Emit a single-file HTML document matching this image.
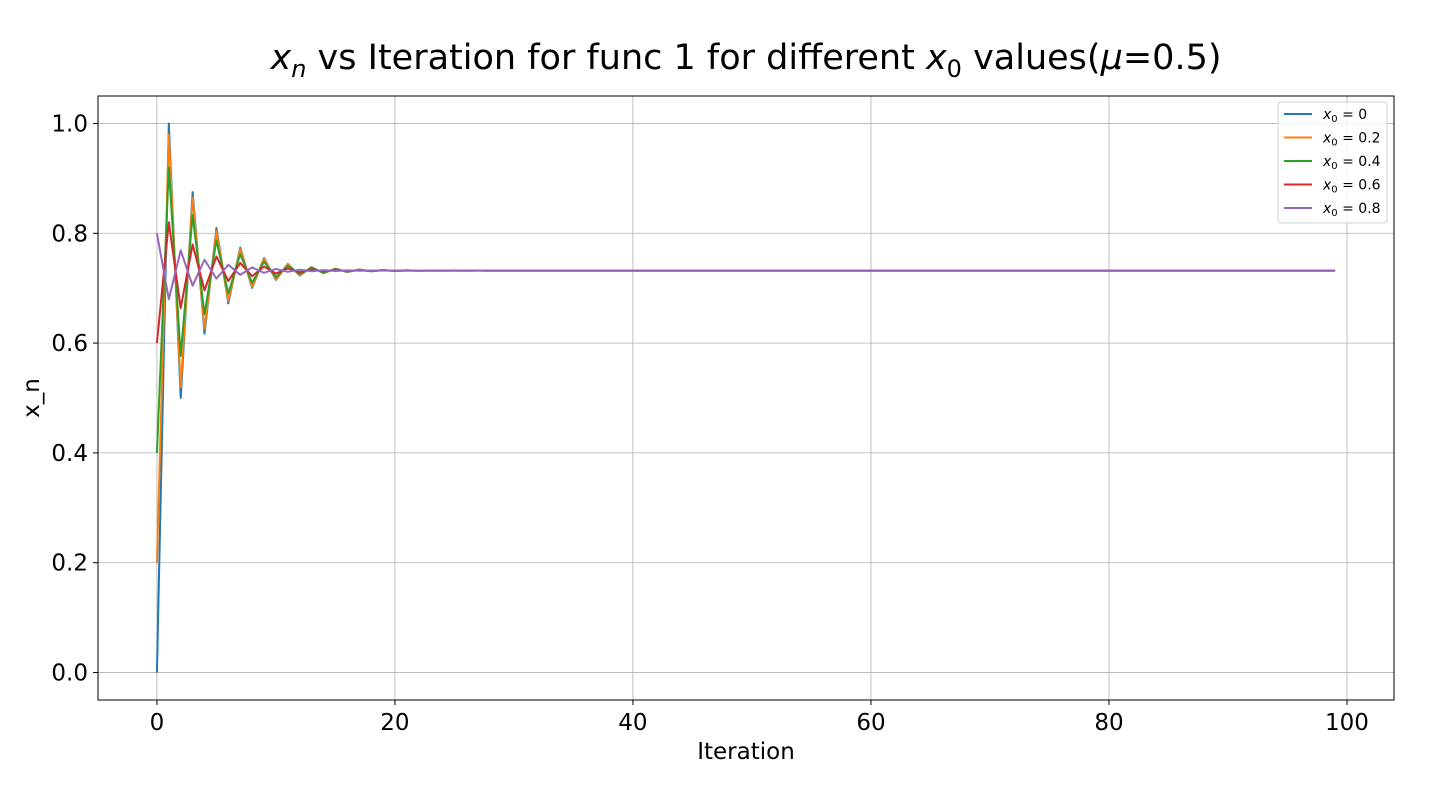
<!DOCTYPE html>
<html><head><meta charset="utf-8"><style>
html,body{margin:0;padding:0;background:#fff;}
svg{display:block;font-family:"DejaVu Sans","Liberation Sans",sans-serif;}
</style></head><body>
<svg id="chart" width="1440" height="796" viewBox="0 0 1440 796">
<text x="746" y="69" text-anchor="middle" font-size="35"><tspan font-style="italic">x</tspan><tspan font-style="italic" font-size="24" dy="8">n</tspan><tspan dy="-8"> vs Iteration for func 1 for different </tspan><tspan font-style="italic">x</tspan><tspan font-size="24" dy="8">0</tspan><tspan dy="-8"> values(</tspan><tspan font-style="italic">μ</tspan><tspan>=0.5)</tspan></text>
<g id="grid"></g>
<g id="series"></g>
<rect x="98" y="96" width="1296" height="604" fill="none" stroke="#000" stroke-width="1"/>
<g id="ticks"></g>
<text x="746" y="759" text-anchor="middle" font-size="23">Iteration</text>
<text transform="translate(39,398) rotate(-90)" text-anchor="middle" font-size="23">x_n</text>
<g id="legend"></g>
</svg>
<script>
const xTicks=[0,20,40,60,80,100];
const yTicks=[0.0,0.2,0.4,0.6,0.8,1.0];
const yTickLabels=["0.0","0.2","0.4","0.6","0.8","1.0"];
const seriesLabels=["0","0.2","0.4","0.6","0.8"];
const seriesColors=["#1f77b4","#ff7f0e","#2ca02c","#d62728","#9467bd"];
const s0=[0,1,0.5,0.875,0.6172,0.8095,0.6724,0.7739,0.7005,0.7547,
0.7152,0.7442,0.7231,0.7386,0.7272,0.7356,0.7295,0.7339,0.7307,0.7330,
0.7314,0.7325,0.7317,0.7323,0.7319,0.7322,0.7320,0.7321,0.732,0.732,
0.732,0.732,0.732,0.732,0.732,0.732,0.732,0.732,0.732,0.732,
0.732,0.732,0.732,0.732,0.732,0.732,0.732,0.732,0.732,0.732,
0.732,0.732,0.732,0.732,0.732,0.732,0.732,0.732,0.732,0.732,
0.732,0.732,0.732,0.732,0.732,0.732,0.732,0.732,0.732,0.732,
0.732,0.732,0.732,0.732,0.732,0.732,0.732,0.732,0.732,0.732,
0.732,0.732,0.732,0.732,0.732,0.732,0.732,0.732,0.732,0.732,
0.732,0.732,0.732,0.732,0.732,0.732,0.732,0.732,0.732,0.732];
const s1=[0.2,0.98,0.5198,0.8649,0.6260,0.8041,0.6767,0.7711,0.7027,0.7531,
0.7164,0.7434,0.7237,0.7381,0.7276,0.7353,0.7297,0.7338,0.7308,0.7330,
0.7314,0.7325,0.7317,0.7323,0.7319,0.7322,0.7320,0.7321,0.732,0.732,
0.732,0.732,0.732,0.732,0.732,0.732,0.732,0.732,0.732,0.732,
0.732,0.732,0.732,0.732,0.732,0.732,0.732,0.732,0.732,0.732,
0.732,0.732,0.732,0.732,0.732,0.732,0.732,0.732,0.732,0.732,
0.732,0.732,0.732,0.732,0.732,0.732,0.732,0.732,0.732,0.732,
0.732,0.732,0.732,0.732,0.732,0.732,0.732,0.732,0.732,0.732,
0.732,0.732,0.732,0.732,0.732,0.732,0.732,0.732,0.732,0.732,
0.732,0.732,0.732,0.732,0.732,0.732,0.732,0.732,0.732,0.732];
const s2=[0.4,0.92,0.5768,0.8336,0.6526,0.7871,0.6902,0.7618,0.7098,0.7481,
0.7202,0.7407,0.7257,0.7367,0.7286,0.7346,0.7302,0.7334,0.7311,0.7328,
0.7315,0.7324,0.7318,0.7322,0.7319,0.7321,0.7320,0.7321,0.732,0.732,
0.732,0.732,0.732,0.732,0.732,0.732,0.732,0.732,0.732,0.732,
0.732,0.732,0.732,0.732,0.732,0.732,0.732,0.732,0.732,0.732,
0.732,0.732,0.732,0.732,0.732,0.732,0.732,0.732,0.732,0.732,
0.732,0.732,0.732,0.732,0.732,0.732,0.732,0.732,0.732,0.732,
0.732,0.732,0.732,0.732,0.732,0.732,0.732,0.732,0.732,0.732,
0.732,0.732,0.732,0.732,0.732,0.732,0.732,0.732,0.732,0.732,
0.732,0.732,0.732,0.732,0.732,0.732,0.732,0.732,0.732,0.732];
const s3=[0.6,0.82,0.6638,0.7797,0.6960,0.7578,0.7129,0.7459,0.7218,0.7395,
0.7266,0.7360,0.7291,0.7342,0.7305,0.7332,0.7312,0.7327,0.7316,0.7324,
0.7318,0.7322,0.7319,0.7321,0.7320,0.7321,0.732,0.732,0.732,0.732,
0.732,0.732,0.732,0.732,0.732,0.732,0.732,0.732,0.732,0.732,
0.732,0.732,0.732,0.732,0.732,0.732,0.732,0.732,0.732,0.732,
0.732,0.732,0.732,0.732,0.732,0.732,0.732,0.732,0.732,0.732,
0.732,0.732,0.732,0.732,0.732,0.732,0.732,0.732,0.732,0.732,
0.732,0.732,0.732,0.732,0.732,0.732,0.732,0.732,0.732,0.732,
0.732,0.732,0.732,0.732,0.732,0.732,0.732,0.732,0.732,0.732,
0.732,0.732,0.732,0.732,0.732,0.732,0.732,0.732,0.732,0.732];
const s4=[0.8,0.68,0.7688,0.7045,0.7518,0.7174,0.7427,0.7242,0.7378,0.7279,
0.7351,0.7298,0.7337,0.7308,0.7329,0.7314,0.7325,0.7317,0.7323,0.7319,
0.7322,0.7320,0.7321,0.732,0.732,0.732,0.732,0.732,0.732,0.732,
0.732,0.732,0.732,0.732,0.732,0.732,0.732,0.732,0.732,0.732,
0.732,0.732,0.732,0.732,0.732,0.732,0.732,0.732,0.732,0.732,
0.732,0.732,0.732,0.732,0.732,0.732,0.732,0.732,0.732,0.732,
0.732,0.732,0.732,0.732,0.732,0.732,0.732,0.732,0.732,0.732,
0.732,0.732,0.732,0.732,0.732,0.732,0.732,0.732,0.732,0.732,
0.732,0.732,0.732,0.732,0.732,0.732,0.732,0.732,0.732,0.732,
0.732,0.732,0.732,0.732,0.732,0.732,0.732,0.732,0.732,0.732];
const allSeries=[s0,s1,s2,s3,s4];

const NS="http://www.w3.org/2000/svg";
const X0=98,X1=1394,Y0=700,Y1=96;
const xMin=-4.95,xMax=103.95,yMin=-0.05,yMax=1.05;
function sx(v){return X0+(v-xMin)/(xMax-xMin)*(X1-X0);}
function sy(v){return Y0-(v-yMin)/(yMax-yMin)*(Y0-Y1);}
function mk(tag,attrs,parent){const e=document.createElementNS(NS,tag);for(const k in attrs)e.setAttribute(k,attrs[k]);parent.appendChild(e);return e;}
const grid=document.getElementById('grid'),ticks=document.getElementById('ticks'),ser=document.getElementById('series'),leg=document.getElementById('legend');
xTicks.forEach(t=>{
  const x=sx(t);
  const g=mk('line',{x1:x,x2:x,y1:Y1,y2:Y0,stroke:'#b0b0b0','stroke-width':0.8},grid);
  
  
  const tk=mk('line',{x1:x,x2:x,y1:Y0,y2:Y0+5,stroke:'#000'},ticks);
  
  
  const tx=mk('text',{x:x,y:Y0+30,'text-anchor':'middle','font-size':23},ticks);
  tx.textContent=String(t);
  
  
});
yTicks.forEach((t,i)=>{
  const y=sy(t);
  const g=mk('line',{x1:X0,x2:X1,y1:y,y2:y,stroke:'#b0b0b0','stroke-width':0.8},grid);
  
  
  const tk=mk('line',{x1:X0-5,x2:X0,y1:y,y2:y,stroke:'#000'},ticks);
  
  
  const tx=mk('text',{x:X0-10,y:y+8,'text-anchor':'end','font-size':23},ticks);
  tx.textContent=yTickLabels[i];
  
  
});
allSeries.forEach((s,i)=>{
  const d=s.map((v,j)=>(j?'L':'M')+sx(j).toFixed(2)+' '+sy(v).toFixed(2)).join(' ');
  const p=mk('path',{d:d,fill:'none',stroke:seriesColors[i],'stroke-width':2,'stroke-linejoin':'round'},ser);
  
  
});
const box=mk('rect',{x:1278,y:102,width:109,height:121,rx:3,fill:'#fff','fill-opacity':0.8,stroke:'#d0d0d0'},leg);


seriesLabels.forEach((l,i)=>{
  const y=114+i*23.5;
  const ln=mk('line',{x1:1284,x2:1312,y1:y,y2:y,stroke:seriesColors[i],'stroke-width':2},leg);
  
  
  const t=mk('text',{x:1323,y:y+5,'font-size':14},leg);
  t.innerHTML='<tspan font-style="italic">x</tspan><tspan font-size="10" dy="3">0</tspan><tspan dy="-3"> = '+l+'</tspan>';
  
  
});
</script>
</body></html>
